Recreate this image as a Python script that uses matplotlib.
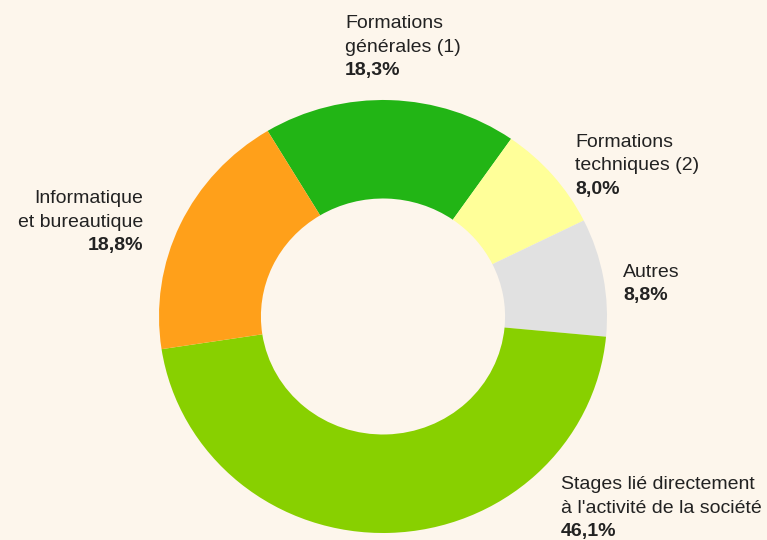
import matplotlib
matplotlib.use("Agg")
import matplotlib.pyplot as plt

# Répartition des formations
categories = [
    "Formations\ngénérales (1)",
    "Formations\ntechniques (2)",
    "Autres",
    "Stages lié directement\nà l'activité de la société",
    "Informatique\net bureautique",
]
values = [18.3, 8.0, 8.8, 46.1, 18.8]
colors = ["#22B515", "#FFFF99", "#E1E1E1", "#88D000", "#FFA01A"]

BG = "#FDF6EC"
W, H = 767, 540

plt.rcParams["font.family"] = ["Liberation Sans", "DejaVu Sans"]

fig = plt.figure(figsize=(W / 100, H / 100), dpi=100, facecolor=BG)

# donut placed in pixel units: outer box 159..607 x 100..533
left, right, top, bottom = 159, 607, 100, 533
ax = fig.add_axes([left / W, 1 - bottom / H, (right - left) / W, (bottom - top) / H])
ax.set_facecolor(BG)
ax.pie(values, colors=colors, startangle=121, counterclock=False,
       radius=1.0, wedgeprops=dict(width=0.455, linewidth=0))
ax.set_aspect("auto")
ax.set_xlim(-1, 1)
ax.set_ylim(-1, 1)
ax.axis("off")

# label anchors: (x pixel, first baseline pixel, horizontal alignment)
anchors = [
    (345, 28.3, "left"),
    (575, 146.7, "left"),
    (623, 276.7, "left"),
    (561, 489.3, "left"),
    (143, 203.0, "right"),
]
step = 23.5
fs = 14
txt_color = "#222222"

for cat, val, (x, y0, ha) in zip(categories, values, anchors):
    lines = cat.split("\n")
    for i, line in enumerate(lines):
        fig.text(x / W, 1 - (y0 + i * step) / H, line, ha=ha, va="baseline",
                 fontsize=fs, color=txt_color)
    pct = f"{val:.1f}%".replace(".", ",")
    fig.text(x / W, 1 - (y0 + len(lines) * step) / H, pct, ha=ha, va="baseline",
             fontsize=fs, fontweight="bold", color=txt_color)

fig.savefig("out.png", dpi=100, facecolor=BG)
